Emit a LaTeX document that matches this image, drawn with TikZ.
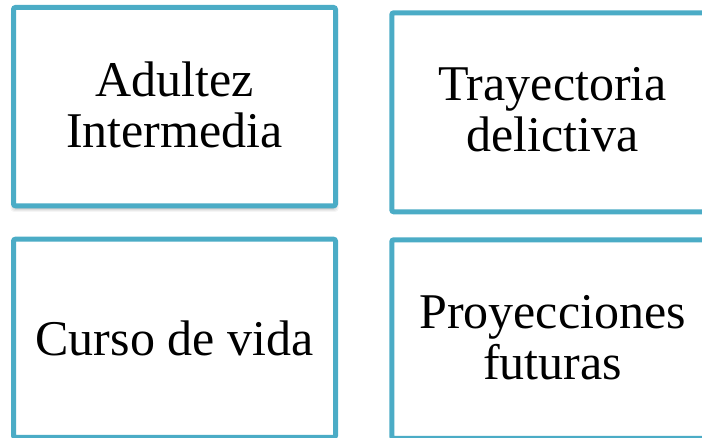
\documentclass[tikz,border=0pt]{standalone}
\usepackage{fontspec}
\setmainfont{Liberation Serif}
\definecolor{boxblue}{HTML}{4BACC6}
\begin{document}
\begin{tikzpicture}[x=1pt,y=-1pt,
  framebox/.style={draw=boxblue,line width=5pt,rounded corners=2pt,fill=white},
  label/.style={align=center,inner sep=0pt,font=\fontsize{50}{51}\selectfont}]
\useasboundingbox (0,0) rectangle (702,438);
\clip (0,0) rectangle (702,438);
% soft shadow of first box
\foreach \o/\a in {6/0.04,5/0.05,4/0.06,3/0.07} {
  \fill[black,opacity=\a,rounded corners=3pt] (13.5-\o+3,7.5+4) rectangle (335.5+\o-3,205.8+\o);
}
\draw[framebox] (13.5,7.5) rectangle (335.5,205.8);
\draw[framebox] (391.8,12.8) rectangle (713.8,211.8);
\draw[framebox] (13.5,239.2) rectangle (335.5,437.5);
\draw[framebox] (391.8,239.8) rectangle (713.8,438.5);
\node[label] (t1) at (174.5,105.1) {Adultez\\Intermedia};
\node[label] (t2) at (552.5,110.1) {Trayectoria\\delictiva};
\node[label] (t3) at (174.5,338) {Curso de vida};
\node[label] (t4) at (552.5,338) {Proyecciones\\futuras};
\end{tikzpicture}
\end{document}
